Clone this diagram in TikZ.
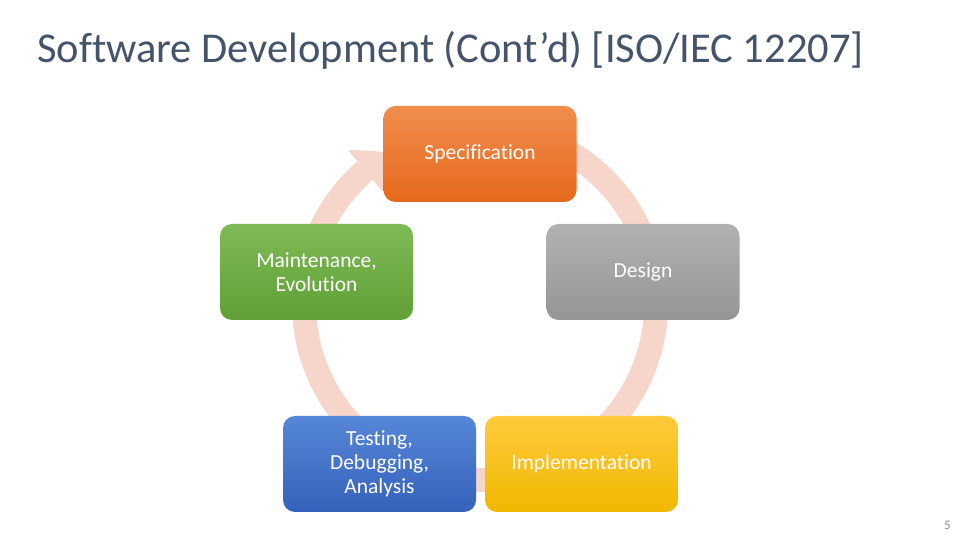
\documentclass[tikz,border=0pt]{standalone}
\usepackage{fontspec}
\setmainfont{Carlito}[Ligatures={NoCommon}]
\usetikzlibrary{arrows.meta,bending}
\definecolor{titlec}{HTML}{44546A}
\definecolor{ringc}{HTML}{F6D5CA}
\definecolor{pagec}{HTML}{8C8C8C}
\definecolor{orT}{HTML}{F18D4E}
\definecolor{orB}{HTML}{E5691B}
\definecolor{grT}{HTML}{7EBA55}
\definecolor{grB}{HTML}{60A036}
\definecolor{gyT}{HTML}{B2B2B2}
\definecolor{gyB}{HTML}{959595}
\definecolor{blT}{HTML}{5787D8}
\definecolor{blB}{HTML}{3461BA}
\definecolor{yeT}{HTML}{FFCA3C}
\definecolor{yeB}{HTML}{F0B800}
\tikzset{
  cbox/.style={rectangle, rounded corners=12pt, minimum width=193pt, minimum height=96pt,
    text=white, align=center, font=\fontsize{21.5}{24}\selectfont, inner sep=2pt},
  ring/.style={ringc, line width=24pt},
}
\begin{document}
\begin{tikzpicture}[x=1pt,y=1pt]
\useasboundingbox[fill=white] (0,0) rectangle (960,540);
\node[anchor=base west, text=titlec, font=\fontsize{42.5}{46}\selectfont, inner sep=0pt] (title) at (37,477) {Software Development (Cont’d) [ISO/IEC 12207]};
\coordinate (c) at (480,236);
\draw[ring, -{Triangle[width=52pt,length=30pt,bend]}] ([shift={(60:176)}]c) arc[start angle=60, end angle=-239, radius=176];
\node[cbox, top color=orT, bottom color=orB] (spec) at (480,386) {Specification};
\node[cbox, top color=grT, bottom color=grB] (maint) at (316.5,268) {Maintenance,\\Evolution};
\node[cbox, top color=gyT, bottom color=gyB] (design) at (643,268) {Design};
\node[cbox, top color=blT, bottom color=blB] (test) at (379.5,76) {Testing,\\Debugging,\\Analysis};
\node[cbox, top color=yeT, bottom color=yeB] (impl) at (581.5,76) {Implementation};
\node[anchor=base east, text=pagec, font=\fontsize{13}{14}\selectfont, inner sep=0pt] (page) at (951,10) {5};
\end{tikzpicture}
\end{document}
